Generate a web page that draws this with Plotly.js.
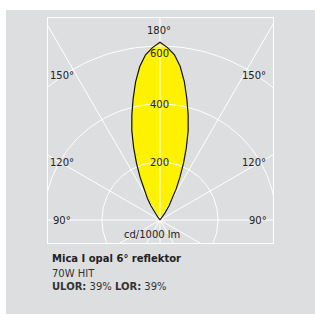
<!DOCTYPE html>
<html>
<head>
<meta charset="utf-8">
<script src="https://cdn.plot.ly/plotly-3.0.1.min.js"></script>
<style>
  html, body { margin: 0; padding: 0; background: #ffffff; width: 315px; height: 314px; overflow: hidden; }
  #bg { position: absolute; left: 6px; top: 10px; width: 309px; height: 304px; background: #dddee0; }
  #chart { position: absolute; left: 0; top: 0; width: 315px; height: 314px; }
</style>
</head>
<body>
<div id="bg"></div>
<div id="chart"></div>
<script>
// Photometric angles (degrees, 180° = straight up) and intensities (cd/1000 lm)
const gammaDeg = [180, 177.5, 175, 172.5, 170, 167.5, 165, 162.5, 160, 157.5, 155, 152.5, 150, 147.5, 145, 142.5, 140];
const candela  = [613, 595, 572, 534, 484, 428, 375, 323, 266, 212, 162, 121, 87, 58, 30, 10, 0];

// Grid definitions
const ringValues = [200, 400, 600];
const rayAngles = [0, 30, 60, 90, 120, 150, 180, 210, 240, 270, 300, 330];
const angleLabels = ['180°', '150°', '120°', '90°'];

const deg = Math.PI / 180;

// Lobe: mirror the half-distribution about the vertical axis
const lobeX = [], lobeY = [];
for (let i = gammaDeg.length - 1; i >= 0; i--) {
  const off = (180 - gammaDeg[i]) * deg;
  lobeX.push(candela[i] * Math.sin(off));
  lobeY.push(candela[i] * Math.cos(off));
}
for (let i = 1; i < gammaDeg.length; i++) {
  const off = (180 - gammaDeg[i]) * deg;
  lobeX.push(-candela[i] * Math.sin(off));
  lobeY.push(candela[i] * Math.cos(off));
}

const traces = [];
traces.push({
  x: lobeX, y: lobeY, type: 'scatter', mode: 'lines',
  fill: 'toself', fillcolor: '#fff200',
  line: { width: 0, color: '#fff200' }, hoverinfo: 'skip', showlegend: false
});

// Grid circles
ringValues.forEach(r => {
  const cx = [], cy = [];
  for (let a = 0; a <= 360; a += 2) { cx.push(r * Math.cos(a * deg)); cy.push(r * Math.sin(a * deg)); }
  traces.push({ x: cx, y: cy, type: 'scatter', mode: 'lines',
    line: { color: '#ffffff', width: 1 }, hoverinfo: 'skip', showlegend: false });
});
// Rays
rayAngles.forEach(a => {
  const R = 1200;
  traces.push({ x: [0, R * Math.sin(a * deg)], y: [0, R * Math.cos(a * deg)], type: 'scatter', mode: 'lines',
    line: { color: '#ffffff', width: 1 }, hoverinfo: 'skip', showlegend: false });
});

// Outline on top
traces.push({
  x: lobeX, y: lobeY, type: 'scatter', mode: 'lines',
  line: { width: 1.2, color: '#111111' }, hoverinfo: 'skip', showlegend: false
});

const font = { family: 'DejaVu Sans', size: 10, color: '#222222' };
const ann = [];
function A(text, x, y, xanchor, extra) {
  ann.push(Object.assign({ text: text, x: x, y: y, xref: 'x', yref: 'y', showarrow: false,
    xanchor: xanchor || 'center', yanchor: 'middle', font: font }, extra || {}));
}
// Angle labels
A(angleLabels[0], -3, 655, 'center');
A(angleLabels[1], -338, 497, 'center');
A(angleLabels[1], 324, 497, 'center');
A(angleLabels[2], -338, 198, 'center');
A(angleLabels[2], 324, 198, 'center');
A(angleLabels[3], -339, -2, 'center');
A(angleLabels[3], 339, -2, 'center');
// Ring value labels
ringValues.forEach(v => A(String(v), 0, v === 600 ? 575 : v - 1, 'center'));
A('cd/1000 lm', -29, -49, 'center');

// Caption below
function P(text, y, f) {
  ann.push({ text: text, x: 0.008, y: y, xref: 'paper', yref: 'paper', showarrow: false,
    xanchor: 'left', yanchor: 'middle', font: f || font, align: 'left' });
}
P('<b>Mica I opal 6° reflektor</b>', -0.071, { family: 'DejaVu Sans', size: 10, color: '#222222' });
P('70W HIT', -0.135, { family: 'DejaVu Sans', size: 10, color: '#333333' });
P('<b>ULOR:</b> 39% <b>LOR:</b> 39%', -0.194, { family: 'DejaVu Sans', size: 10, color: '#333333' });

const layout = {
  width: 315, height: 314,
  margin: { l: 48, r: 42, t: 18, b: 71, pad: 0 },
  paper_bgcolor: 'rgba(0,0,0,0)', plot_bgcolor: 'rgba(0,0,0,0)',
  xaxis: { range: [-386.2, 389.7], showgrid: false, zeroline: false, showticklabels: false, ticks: '',
    showline: true, mirror: true, linecolor: '#ffffff', linewidth: 1, fixedrange: true },
  yaxis: { range: [-79.3, 696.6], showgrid: false, zeroline: false, showticklabels: false, ticks: '',
    showline: true, mirror: true, linecolor: '#ffffff', linewidth: 1, fixedrange: true },
  showlegend: false,
  annotations: ann
};

Plotly.newPlot('chart', traces, layout, { displayModeBar: false, staticPlot: true });
</script>
</body>
</html>
